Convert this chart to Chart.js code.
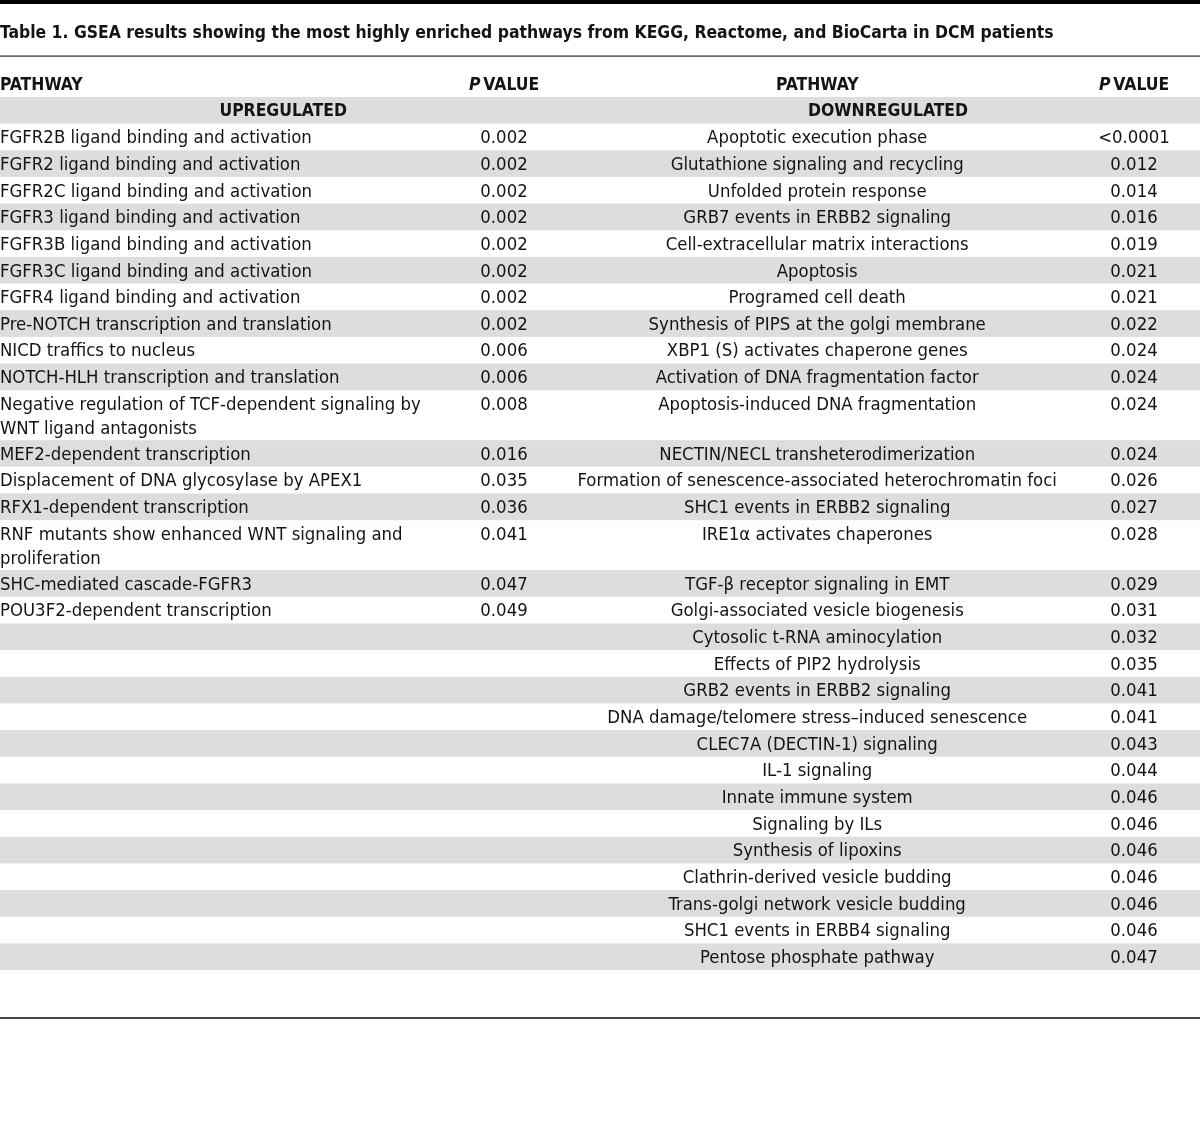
<!DOCTYPE html>
<html>
<head>
<meta charset="utf-8">
<script src="https://cdn.jsdelivr.net/npm/chart.js@4.4.0/dist/chart.umd.min.js"></script>
<style>
  html, body { margin: 0; padding: 0; background: #fff; }
  #wrap { width: 1200px; height: 1128px; position: relative; }
</style>
</head>
<body>
<div id="wrap"><canvas id="gsea-table"></canvas></div>
<script>
const titleText = 'Table 1. GSEA results showing the most highly enriched pathways from KEGG, Reactome, and BioCarta in DCM patients';
const headerLabels = ['PATHWAY', 'VALUE', 'PATHWAY', 'VALUE'];
const groupLabels = ['UPREGULATED', 'DOWNREGULATED'];

// wrapped lines are split with \n as in the printed table
const upPathways = [
  'FGFR2B ligand binding and activation',
  'FGFR2 ligand binding and activation',
  'FGFR2C ligand binding and activation',
  'FGFR3 ligand binding and activation',
  'FGFR3B ligand binding and activation',
  'FGFR3C ligand binding and activation',
  'FGFR4 ligand binding and activation',
  'Pre-NOTCH transcription and translation',
  'NICD traffics to nucleus',
  'NOTCH-HLH transcription and translation',
  'Negative regulation of TCF-dependent signaling by\nWNT ligand antagonists',
  'MEF2-dependent transcription',
  'Displacement of DNA glycosylase by APEX1',
  'RFX1-dependent transcription',
  'RNF mutants show enhanced WNT signaling and\nproliferation',
  'SHC-mediated cascade-FGFR3',
  'POU3F2-dependent transcription'
];
const upPValues = ['0.002', '0.002', '0.002', '0.002', '0.002', '0.002', '0.002', '0.002', '0.006', '0.006',
  '0.008', '0.016', '0.035', '0.036', '0.041', '0.047', '0.049'];

const downPathways = [
  'Apoptotic execution phase',
  'Glutathione signaling and recycling',
  'Unfolded protein response',
  'GRB7 events in ERBB2 signaling',
  'Cell-extracellular matrix interactions',
  'Apoptosis',
  'Programed cell death',
  'Synthesis of PIPS at the golgi membrane',
  'XBP1 (S) activates chaperone genes',
  'Activation of DNA fragmentation factor',
  'Apoptosis-induced DNA fragmentation',
  'NECTIN/NECL transheterodimerization',
  'Formation of senescence-associated heterochromatin foci',
  'SHC1 events in ERBB2 signaling',
  'IRE1\u03B1 activates chaperones',
  'TGF-\u03B2 receptor signaling in EMT',
  'Golgi-associated vesicle biogenesis',
  'Cytosolic t-RNA aminocylation',
  'Effects of PIP2 hydrolysis',
  'GRB2 events in ERBB2 signaling',
  'DNA damage/telomere stress\u2013induced senescence',
  'CLEC7A (DECTIN-1) signaling',
  'IL-1 signaling',
  'Innate immune system',
  'Signaling by ILs',
  'Synthesis of lipoxins',
  'Clathrin-derived vesicle budding',
  'Trans-golgi network vesicle budding',
  'SHC1 events in ERBB4 signaling',
  'Pentose phosphate pathway'
];
const downPValues = ['<0.0001', '0.012', '0.014', '0.016', '0.019', '0.021', '0.021', '0.022', '0.024', '0.024',
  '0.024', '0.024', '0.026', '0.027', '0.028', '0.029', '0.031', '0.032', '0.035', '0.041',
  '0.041', '0.043', '0.044', '0.046', '0.046', '0.046', '0.046', '0.046', '0.046', '0.047'];

const FONT = '"Liberation Sans Narrow", "DejaVu Sans Condensed", "Noto Sans", sans-serif';
const BODY_SIZE = 18.4;
const BOLD_SIZE = 17.4;
const TEXT = '#141414';
const BAND = '#dcdddf';
const LINE_STEP = 0.875;   // extra row height for each wrapped line, in row units
const TEXT_NUDGE = 1.5;    // px, baseline correction for the substitute font

// column anchors on the x scale (fraction of page width)
const COL = { upName: 0.0, upP: 0.42, downName: 0.681, downP: 0.945, upGroup: 0.236, downGroup: 0.74 };

// build the row layout (y in row units, top of table = 0)
const nRows = Math.max(upPathways.length, downPathways.length);
const rows = [];
let yCursor = 2; // header row + group row
for (let i = 0; i < nRows; i++) {
  const l = (upPathways[i] || '').split('\n').length;
  const r = (downPathways[i] || '').split('\n').length;
  const lines = Math.max(l, r);
  const h = 1 + (lines - 1) * LINE_STEP;
  rows.push({ top: yCursor, height: h });
  yCursor += h;
}
const tableEnd = yCursor;

const cellPoints = [];
rows.forEach((row, i) => {
  if (upPathways[i]) {
    cellPoints.push({ x: COL.upName, y: row.top + 0.5, text: upPathways[i], align: 'left' });
    cellPoints.push({ x: COL.upP, y: row.top + 0.5, text: upPValues[i], align: 'center' });
  }
  if (downPathways[i]) {
    cellPoints.push({ x: COL.downName, y: row.top + 0.5, text: downPathways[i], align: 'center' });
    cellPoints.push({ x: COL.downP, y: row.top + 0.5, text: downPValues[i], align: 'center' });
  }
});

const tablePlugin = {
  id: 'tableCells',
  beforeDatasetsDraw(chart) {
    const { ctx, chartArea, scales: { x, y } } = chart;
    ctx.save();
    // top black bar
    ctx.fillStyle = '#000';
    ctx.fillRect(0, 0, chart.width, 4);
    // rule under title and bottom rule
    ctx.fillStyle = '#2a2a2a';
    ctx.fillRect(0, chartArea.top - 1.5, chart.width, 1.2);
    ctx.fillStyle = '#444';
    ctx.fillRect(0, chartArea.bottom - 1, chart.width, 2);

    // gray bands: group row then every odd data row
    ctx.fillStyle = BAND;
    const band = (t, h) => {
      const y0 = y.getPixelForValue(t);
      const y1 = y.getPixelForValue(t + h);
      ctx.fillRect(x.getPixelForValue(0), y0, x.getPixelForValue(1) - x.getPixelForValue(0), y1 - y0);
    };
    band(1, 1);
    rows.forEach((row, i) => { if (i % 2 === 1) band(row.top, row.height); });

    // column headers
    ctx.fillStyle = TEXT;
    ctx.textBaseline = 'middle';
    const hy = y.getPixelForValue(0.5) + TEXT_NUDGE;
    ctx.font = `bold ${BOLD_SIZE}px ${FONT}`;
    ctx.textAlign = 'left';
    ctx.fillText(headerLabels[0], x.getPixelForValue(COL.upName), hy);
    ctx.textAlign = 'center';
    ctx.fillText(headerLabels[2], x.getPixelForValue(COL.downName), hy);
    [COL.upP, COL.downP].forEach((c, k) => {
      const label = headerLabels[k === 0 ? 1 : 3];
      ctx.font = `bold ${BOLD_SIZE}px ${FONT}`;
      const wv = ctx.measureText(label).width;
      ctx.font = `italic bold ${BOLD_SIZE}px ${FONT}`;
      const wp = ctx.measureText('P').width;
      const gap = 3;
      const x0 = x.getPixelForValue(c) - (wp + gap + wv) / 2;
      ctx.textAlign = 'left';
      ctx.fillText('P', x0, hy);
      ctx.font = `bold ${BOLD_SIZE}px ${FONT}`;
      ctx.fillText(label, x0 + wp + gap, hy);
    });

    // group labels
    ctx.textAlign = 'center';
    const gy = y.getPixelForValue(1.5) + TEXT_NUDGE;
    ctx.fillText(groupLabels[0], x.getPixelForValue(COL.upGroup), gy);
    ctx.fillText(groupLabels[1], x.getPixelForValue(COL.downGroup), gy);
    ctx.restore();
  },
  afterDatasetsDraw(chart) {
    const { ctx, scales: { x, y } } = chart;
    const pts = chart.data.datasets[0].data;
    ctx.save();
    ctx.fillStyle = TEXT;
    ctx.font = `${BODY_SIZE}px ${FONT}`;
    ctx.textBaseline = 'middle';
    pts.forEach(p => {
      ctx.textAlign = p.align;
      const px = x.getPixelForValue(p.x);
      p.text.split('\n').forEach((line, k) => {
        ctx.fillText(line, px, y.getPixelForValue(p.y + k * 0.9) + TEXT_NUDGE);
      });
    });
    ctx.restore();
  }
};

new Chart(document.getElementById('gsea-table'), {
  type: 'scatter',
  data: {
    datasets: [{ data: cellPoints, pointRadius: 0, pointHoverRadius: 0 }]
  },
  options: {
    responsive: true,
    maintainAspectRatio: false,
    animation: false,
    events: [],
    layout: { padding: { top: 0, bottom: 110, left: 0, right: 0 } },
    plugins: {
      legend: { display: false },
      tooltip: { enabled: false },
      title: {
        display: true,
        text: titleText,
        align: 'start',
        color: TEXT,
        font: { family: FONT, size: BOLD_SIZE, weight: 'bold', lineHeight: 1.2 },
        padding: { top: 23.5, bottom: 12.6 }
      }
    },
    scales: {
      x: { type: 'linear', display: false, min: 0, max: 1 },
      y: { type: 'linear', display: false, reverse: true, min: -0.5, max: tableEnd + 1.8 }
    }
  },
  plugins: [tablePlugin]
});
</script>
</body>
</html>
